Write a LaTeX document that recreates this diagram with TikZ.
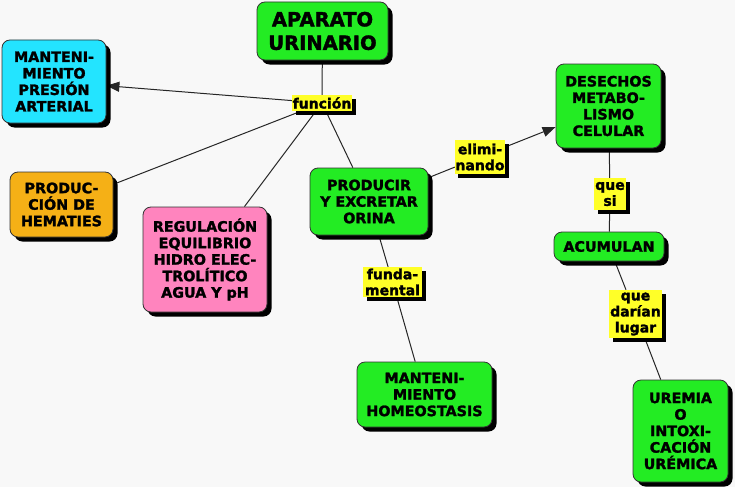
\documentclass[tikz,border=0pt]{standalone}
\usepackage{fontspec}
\setmainfont{DejaVu Sans}[BoldFeatures={FakeBold=1.8}]
\usetikzlibrary{shadows,arrows.meta}
\pgfdeclarelayer{bg}
\pgfdeclarelayer{edges}
\pgfsetlayers{bg,edges,main}
\definecolor{bgc}{RGB}{248,248,248}
\definecolor{cgreen}{RGB}{35,236,35}
\definecolor{ccyan}{RGB}{35,228,255}
\definecolor{corange}{RGB}{245,176,22}
\definecolor{cpink}{RGB}{255,132,190}
\definecolor{cyellow}{RGB}{255,255,40}
\tikzset{
  box/.style={draw=black!80, line width=0.8pt, rounded corners=8pt, align=center,
    inner sep=1pt, font=\bfseries\fontsize{14.3}{16.5}\selectfont,
    drop shadow={shadow xshift=4.5pt, shadow yshift=-4.5pt, fill=black, opacity=1}},
  gbox/.style={box, fill=cgreen},
  lbl/.style={fill=cyellow, align=center, inner sep=0.5pt,
    font=\bfseries\fontsize{14}{16}\selectfont,
    drop shadow={shadow xshift=3.5pt, shadow yshift=-3.5pt, fill=black, opacity=1}},
  conn/.style={line width=1pt, black!85},
  arr/.style={conn, -{Triangle[length=13pt,width=10pt]}}
}
\begin{document}
\begin{tikzpicture}[x=1pt,y=-1pt]
\begin{pgfonlayer}{bg}
\fill[bgc] (0,0) rectangle (735,487);
\end{pgfonlayer}
\useasboundingbox (0,0) rectangle (735,487);

\node[gbox, minimum width=131pt, minimum height=58pt, font=\bfseries\fontsize{19.5}{23.5}\selectfont] (ap) at (322.5,31) {APARATO\\URINARIO};
\node[box, fill=ccyan, minimum width=104pt, minimum height=83pt] (mp) at (54,81.5) {MANTENI-\\MIENTO\\PRESIÓN\\ARTERIAL};
\node[box, fill=corange, minimum width=103pt, minimum height=65pt] (ph) at (61.5,204.5) {PRODUC-\\CIÓN DE\\HEMATIES};
\node[box, fill=cpink, minimum width=124pt, minimum height=105pt] (rg) at (205,259.5) {REGULACIÓN\\EQUILIBRIO\\HIDRO ELEC-\\TROLÍTICO\\AGUA Y pH};
\node[gbox, minimum width=118pt, minimum height=67pt] (pr) at (369,201.5) {PRODUCIR\\Y EXCRETAR\\ORINA};
\node[gbox, minimum width=105pt, minimum height=84pt] (de) at (608.5,106) {DESECHOS\\METABO-\\LISMO\\CELULAR};
\node[gbox, minimum width=110pt, minimum height=29pt] (ac) at (609,246.5) {ACUMULAN};
\node[gbox, minimum width=95pt, minimum height=102pt] (ur) at (680.5,431) {UREMIA\\O\\INTOXI-\\CACIÓN\\URÉMICA};
\node[gbox, minimum width=135pt, minimum height=65pt] (ho) at (424.5,394.5) {MANTENI-\\MIENTO\\HOMEOSTASIS};

\node[lbl, minimum width=60pt, minimum height=16pt] (fu) at (322,103) {función};
\node[lbl, minimum width=50pt, minimum height=34pt] (el) at (480,157) {elimi-\\nando};
\node[lbl, minimum width=32pt, minimum height=32pt] (qs) at (610,194) {que\\si};
\node[lbl, minimum width=53pt, minimum height=48pt] (qd) at (635.5,314) {que\\darían\\lugar};
\node[lbl, minimum width=59pt, minimum height=30pt] (fm) at (392.5,282) {funda-\\mental};

\begin{pgfonlayer}{edges}
\draw[conn] (ap) -- (fu);
\draw[arr] (fu) -- (mp);
\draw[conn] (fu) -- (ph);
\draw[conn] (fu) -- (rg);
\draw[conn] (fu) -- (pr);
\draw[conn] (pr) -- (el);
\draw[arr] (el) -- (de);
\draw[conn] (de) -- (qs);
\draw[conn] (qs) -- (ac);
\draw[conn] (ac) -- (qd);
\draw[conn] (qd) -- (ur);
\draw[conn] (pr) -- (fm);
\draw[conn] (fm) -- (ho);
\end{pgfonlayer}
\end{tikzpicture}
\end{document}
